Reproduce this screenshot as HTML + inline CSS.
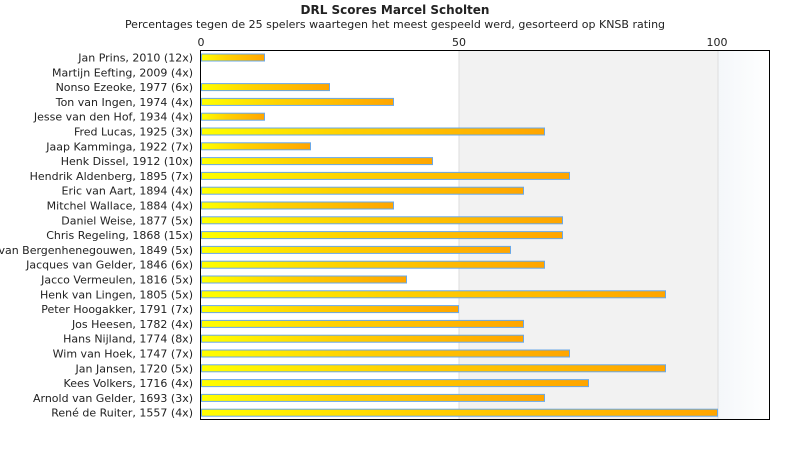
<!DOCTYPE html>
<html><head><meta charset="utf-8"><style>body{margin:0;background:#fff}svg{display:block}</style></head>
<body>
<svg width="790" height="450" xmlns="http://www.w3.org/2000/svg" font-family="DejaVu Sans, sans-serif">
<defs>
<linearGradient id="g" x1="0" x2="1" y1="0" y2="0"><stop offset="0" stop-color="#ffff00"/><stop offset="0.4" stop-color="#ffd200"/><stop offset="1" stop-color="#ffa500"/></linearGradient>
<linearGradient id="bg" x1="0" x2="1"><stop offset="0" stop-color="#f4f7fa"/><stop offset="1" stop-color="#ffffff"/></linearGradient>
</defs>
<text x="395" y="14" text-anchor="middle" font-size="12" font-weight="bold" fill="#222">DRL Scores Marcel Scholten</text>
<text x="395" y="28" text-anchor="middle" font-size="11" fill="#222">Percentages tegen de 25 spelers waartegen het meest gespeeld werd, gesorteerd op KNSB rating</text>
<rect x="459" y="50" width="259" height="370" fill="#f2f2f2"/>
<rect x="718" y="50" width="52" height="370" fill="url(#bg)"/>
<line x1="459" y1="50" x2="459" y2="420" stroke="#ddd"/>
<line x1="718" y1="50" x2="718" y2="420" stroke="#ddd"/>
<g font-size="11" fill="#222" text-anchor="middle">
<text x="201" y="46">0</text><text x="459" y="46">50</text><text x="717" y="46">100</text></g>
<g id="bars" stroke="#6aa8e8" stroke-width="1" fill="url(#g)"></g>
<g id="labels" font-size="11" fill="#222" text-anchor="end"></g>
<rect x="200.5" y="50.5" width="569" height="369" fill="none" stroke="#000"/>
<script>
var d=[["Jan Prins, 2010 (12x)",265],["Martijn Eefting, 2009 (4x)",201],["Nonso Ezeoke, 1977 (6x)",330],["Ton van Ingen, 1974 (4x)",394],["Jesse van den Hof, 1934 (4x)",265],["Fred Lucas, 1925 (3x)",545],["Jaap Kamminga, 1922 (7x)",311],["Henk Dissel, 1912 (10x)",433],["Hendrik Aldenberg, 1895 (7x)",570],["Eric van Aart, 1894 (4x)",524],["Mitchel Wallace, 1884 (4x)",394],["Daniel Weise, 1877 (5x)",563],["Chris Regeling, 1868 (15x)",563],["van Bergenhenegouwen, 1849 (5x)",511],["Jacques van Gelder, 1846 (6x)",545],["Jacco Vermeulen, 1816 (5x)",407],["Henk van Lingen, 1805 (5x)",666],["Peter Hoogakker, 1791 (7x)",459],["Jos Heesen, 1782 (4x)",524],["Hans Nijland, 1774 (8x)",524],["Wim van Hoek, 1747 (7x)",570],["Jan Jansen, 1720 (5x)",666],["Kees Volkers, 1716 (4x)",589],["Arnold van Gelder, 1693 (3x)",545],["René de Ruiter, 1557 (4x)",718]];
var ns="http://www.w3.org/2000/svg",B=document.getElementById("bars"),L=document.getElementById("labels");
d.forEach(function(r,i){var c=57.5+14.8*i;
var t=document.createElementNS(ns,"text");t.setAttribute("x",193);t.setAttribute("y",c+4);t.textContent=r[0];L.appendChild(t);
if(r[1]>202){var b=document.createElementNS(ns,"rect");b.setAttribute("x",201.5);b.setAttribute("y",c-3.5);b.setAttribute("width",r[1]-202);b.setAttribute("height",7);B.appendChild(b);}});
</script>
</svg>
</body></html>
